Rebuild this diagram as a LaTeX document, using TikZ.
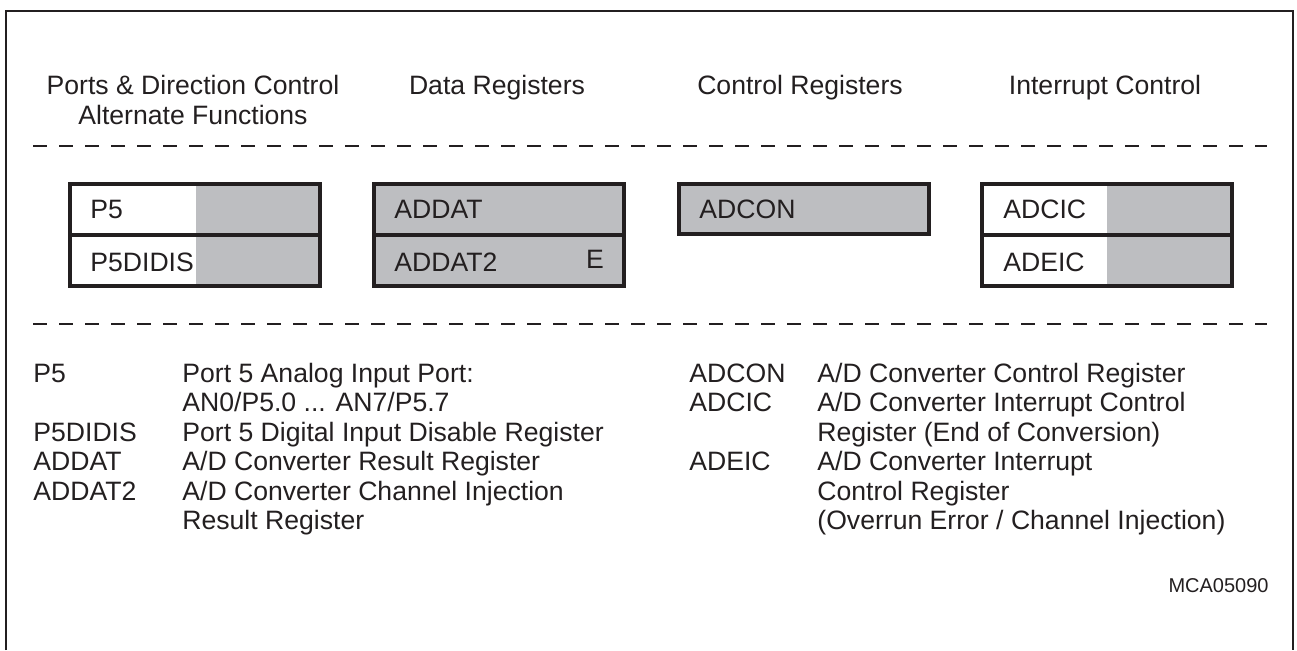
\documentclass[tikz,border=0pt]{standalone}
\usepackage{fontspec}
\setmainfont{Liberation Sans}
\usepackage{xcolor}
\usepackage{tikz}

\definecolor{ink}{RGB}{35,31,32}
\definecolor{reggray}{RGB}{189,190,193}

\begin{document}
\begin{tikzpicture}[x=0.5pt, y=-0.5pt, every node/.style={font=\fontsize{13.3}{16}\selectfont, text=ink, inner sep=0pt},
  regbox/.style={draw=ink, line width=2pt},
  sepline/.style={draw=ink, line width=1.1pt, dash pattern=on 7pt off 6pt},
  legend/.style={anchor=base west}]
  \useasboundingbox (0,0) rectangle (1297,650);
  % frame, open at the bottom
  \draw[ink, line width=1pt] (6,650) -- (6,11) -- (1293,11) -- (1293,650);
  % column headings
  \node[anchor=base] (hports) at (193,94) {Ports \& Direction Control};
  \node[anchor=base] (halt) at (193,124) {Alternate Functions};
  \node[anchor=base] (hdata) at (497,94) {Data Registers};
  \node[anchor=base] (hctrl) at (800,94) {Control Registers};
  \node[anchor=base] (hint) at (1105,94) {Interrupt Control};
  % separators
  \draw[sepline] (33,146) -- (1267,146);
  \draw[sepline] (33,324) -- (1267,324);
  % register boxes
  \fill[reggray] (196,184) rectangle (320,286);
  \fill[reggray] (374,184) rectangle (624,286);
  \fill[reggray] (679,184) rectangle (929,234);
  \fill[reggray] (1107,184) rectangle (1232,286);
  \foreach \xl in {70,374,982} \draw[regbox] (\xl,184) rectangle +(250,102) (\xl,235) -- +(250,0);
  \draw[regbox] (679,184) rectangle (929,234);
  \node[legend] (rp5) at (90,218) {P5};
  \node[legend] (rp5didis) at (90,271) {P5DIDIS};
  \node[legend] (raddat) at (394,218) {ADDAT};
  \node[legend] (raddat2) at (394,271) {ADDAT2};
  \node[anchor=base] (re) at (595,268) {E};
  \node[legend] (radcon) at (699,218) {ADCON};
  \node[legend] (radcic) at (1003,218) {ADCIC};
  \node[legend] (radeic) at (1003,271) {ADEIC};
  % legend, left column
  \node[legend] (lp5) at (33,382) {P5};
  \node[legend] (lp5didis) at (33,441) {P5DIDIS};
  \node[legend] (laddat) at (33,470.5) {ADDAT};
  \node[legend] (laddat2) at (33,500) {ADDAT2};
  \node[legend] (dp5a) at (182,382) {Port 5 Analog Input Port:};
  \node[legend] (dp5b) at (182,411.5) {AN0/P5.0 ... AN7/P5.7};
  \node[legend] (dp5didis) at (182,441) {Port 5 Digital Input Disable Register};
  \node[legend] (daddat) at (182,470.5) {A/D Converter Result Register};
  \node[legend] (daddat2a) at (182,500) {A/D Converter Channel Injection};
  \node[legend] (daddat2b) at (182,529.5) {Result Register};
  % legend, right column
  \node[legend] (ladcon) at (689,382) {ADCON};
  \node[legend] (ladcic) at (689,411.5) {ADCIC};
  \node[legend] (ladeic) at (689,470.5) {ADEIC};
  \node[legend] (dadcon) at (817,382) {A/D Converter Control Register};
  \node[legend] (dadcica) at (817,411.5) {A/D Converter Interrupt Control};
  \node[legend] (dadcicb) at (817,441) {Register (End of Conversion)};
  \node[legend] (dadeica) at (817,470.5) {A/D Converter Interrupt};
  \node[legend] (dadeicb) at (817,500) {Control Register};
  \node[legend] (dadeicc) at (817,529.5) {(Overrun Error / Channel Injection)};
  % figure number
  \node[anchor=base east, font=\fontsize{10}{12}\selectfont] (fignum) at (1269,592) {MCA05090};
\end{tikzpicture}
\end{document}
